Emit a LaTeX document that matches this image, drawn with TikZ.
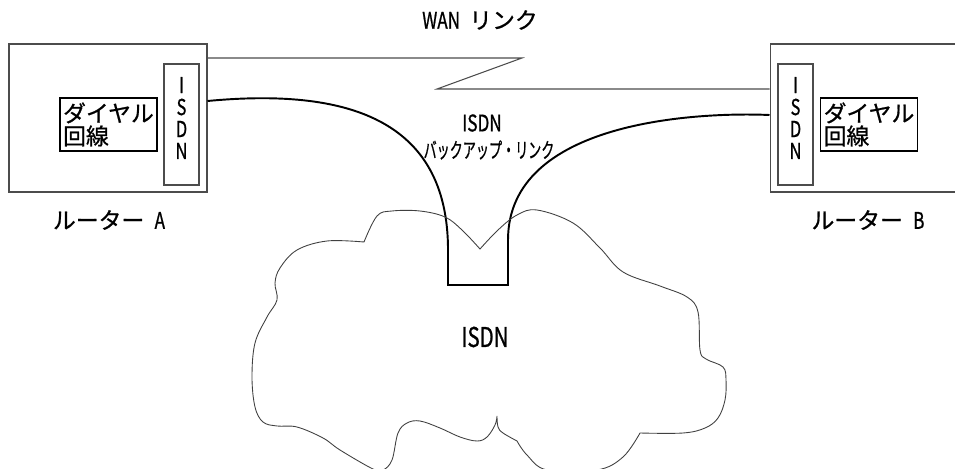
\documentclass[tikz,border=0pt]{standalone}
\usepackage{fontspec}
\setmainfont{Noto Sans CJK JP}[RawFeature={embolden=0.8}]
\newfontfamily\narrowfont[FakeStretch=0.75,RawFeature={embolden=0.8}]{Noto Sans CJK JP}
\newfontfamily\narrowerfont[FakeStretch=0.62,RawFeature={embolden=0.6}]{Noto Sans CJK JP}
\begin{document}
\begin{tikzpicture}[x=0.02cm,y=-0.02cm,
		routerbox/.style={draw=black!70,line width=0.6pt,minimum height=2.96cm,inner sep=0pt},
		isdnbox/.style={draw=black!70,line width=0.6pt,minimum width=0.7cm,minimum height=2.42cm,inner sep=0pt},
		dialbox/.style={draw,line width=1.1pt,minimum width=1.94cm,minimum height=1.06cm,align=left,inner sep=0pt,font=\fontsize{13}{13}\selectfont},
		vtext/.style={align=center,inner sep=0pt,font=\narrowfont\fontsize{12.5}{12.5}\selectfont},
		routerlabel/.style={font=\fontsize{13}{13}\selectfont},
		wanline/.style={draw=black!70,line width=0.6pt},
		backup/.style={line width=1.1pt},
		cloudline/.style={draw=black!75,line width=0.5pt}]
		\useasboundingbox (0,0) rectangle (955,469);

		\node[routerbox,minimum width=3.96cm] (routerA) at (108,118) {};
		\node[routerbox,minimum width=3.84cm] (routerB) at (866,118) {};

		\node[isdnbox] (isdnA) at (181.5,124.5) {};
		\node[isdnbox] (isdnB) at (795.5,124.5) {};
		\node[vtext] (isdnAlbl) at (181.5,118) {I\\S\\D\\N};
		\node[vtext] (isdnBlbl) at (795.5,118) {I\\S\\D\\N};

		\node[dialbox] (dialA) at (108.5,124.5) {ダイヤル\\回線};
		\node[dialbox] (dialB) at (869,124.5) {ダイヤル\\回線};

		\node[routerlabel] (lblA) at (109,220) {ルーター\hspace{0.45em}{\narrowfont A}};
		\node[routerlabel] (lblB) at (868,220) {ルーター\hspace{0.45em}{\narrowfont B}};
		\node[routerlabel] (wanlbl) at (480,20) {{\narrowfont WAN}\hspace{0.4em}リンク};

		\coordinate (zigtop) at (522,58);
		\coordinate (zigbot) at (437,89);
		\draw[wanline] (routerA.east |- zigtop) -- (zigtop) -- (zigbot) -- (routerB.west |- zigbot);

		\coordinate (bkA) at (routerA.east |- 0,101);
		\coordinate (bkB) at (routerB.west |- 0,115);
		\coordinate (dipL) at (448,285);
		\coordinate (dipR) at (508,285);
		\draw[backup] (bkA) .. controls (345,88) and (448,118) .. (448,250) -- (dipL) -- (dipR) -- (508,240) .. controls (508,120) and (700,112) .. (bkB);

		\node[font=\narrowfont\fontsize{13}{13}\selectfont] (bklbl) at (482,123) {ISDN};
		\node[font=\narrowerfont\fontsize{12}{12}\selectfont] (bklbl2) at (489,150) {バックアップ・リンク};

		\draw[cloudline] plot[smooth,tension=0.6] coordinates {(364,242) (377,216) (392,211) (420,211) (445,217) (462,230) (480,249)}
			-- plot[smooth,tension=0.6] coordinates {(480,249) (498,230) (517,215) (537,210) (573,223) (600,248) (623,272) (660,286) (687,297) (698,312) (700,350) (706,359) (723,367) (726,380) (725,400) (718,418) (705,428) (683,433) (640,433)}
			-- plot[smooth,tension=0.6] coordinates {(640,433) (623,457) (597,470) (547,470) (527,455) (517,441)}
			-- plot[smooth,tension=0.6] coordinates {(517,441) (503,433) (498,427) (497,416)}
			-- plot[smooth,tension=0.6] coordinates {(497,416) (495,425) (487,437) (477,441) (460,437) (440,428) (420,421) (407,423) (398,433) (392,460) (383,470) (373,469) (340,450) (323,438) (297,427) (277,426) (263,422) (255,407) (252,377) (255,343) (267,317) (277,300) (275,283) (280,268) (297,250) (327,241) (364,242)} -- cycle;

		\node[font=\narrowfont\fontsize{15.5}{15.5}\selectfont] (cloudlbl) at (485,337) {ISDN};
	\end{tikzpicture}
\end{document}
